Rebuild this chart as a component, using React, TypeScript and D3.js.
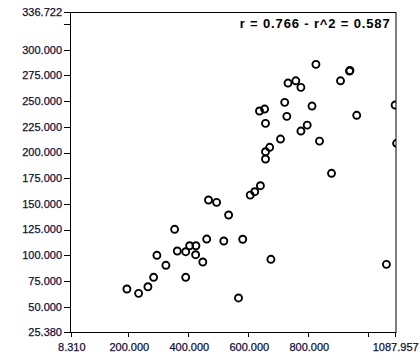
import React from "react";
import * as d3 from "d3";

const xValues = [192, 231, 262, 281, 292, 322, 351, 388, 360, 388, 401, 422, 421, 445, 458, 464, 491, 515, 531, 578, 564, 603, 618, 637, 634, 651, 654, 654, 654, 668, 672, 704, 718, 725, 729, 755, 772, 772, 793, 809, 822, 834, 874, 904, 934, 935.5, 958, 1057, 1086, 1091];
const yValues = [67.2, 63.0, 69.4, 78.6, 100.0, 90.3, 125.3, 78.6, 104.2, 103.5, 109.3, 109.3, 100.6, 93.5, 115.8, 153.8, 151.5, 113.9, 139.2, 115.6, 58.5, 158.6, 161.9, 167.7, 240.4, 242.3, 228.4, 200.8, 193.7, 205.1, 96.1, 213.1, 248.8, 235.2, 267.6, 269.8, 263.4, 220.9, 226.7, 245.2, 285.8, 211.1, 179.8, 269.8, 279.2, 279.8, 236.2, 91.2, 246.2, 209.0];

const xDomain = [8.31, 1087.957];
const yDomain = [25.38, 336.722];
const xTickLabels = [8.31, 200, 400, 600, 800, 1087.957];
const xMinorTicks = [1000];
const yTickLabels = [25.38, 50, 75, 100, 125, 150, 175, 200, 225, 250, 275, 300, 336.722];
const yMinorTicks = [325];
const title = "r = 0.766 - r^2 = 0.587";

export default function App() {
  const left = 70.5, right = 396, top = 12.5, bottom = 332.5;
  const x = d3.scaleLinear().domain(xDomain).range([71.8, 395.7]);
  const y = d3.scaleLinear().domain(yDomain).range([332, 12]);
  const fmt = d3.format(".3f");
  const textColor = "#10103a";
  const font = "'Liberation Sans', Arial, sans-serif";
  return (
    <svg width={420} height={360} style={{ position: "absolute", left: 0, top: 0, background: "#fff" }}>
      <defs>
        <clipPath id="plotclip">
          <rect x={left} y={top} width={right - left} height={bottom - top} />
        </clipPath>
      </defs>
      <rect x={0} y={0} width={420} height={360} fill="#fff" />
      <g clipPath="url(#plotclip)">
        {xValues.map((v, i) => (
          <circle key={i} cx={x(v)} cy={y(yValues[i])} r={3.5} fill="none" stroke="#000" strokeWidth={1.9} />
        ))}
      </g>
      <rect x={left} y={top} width={right - left} height={bottom - top} fill="none" stroke="#000" strokeWidth={1} />
      {yTickLabels.map((t) => (
        <g key={"y" + t}>
          <line x1={64} x2={left} y1={Math.round(y(t)) + 0.5} y2={Math.round(y(t)) + 0.5} stroke="#000" />
          <text x={62} y={y(t)} dy="0.35em" textAnchor="end" fontFamily={font} fontSize={11} stroke={textColor} strokeWidth={0.25} fill={textColor}>{fmt(t)}</text>
        </g>
      ))}
      {yMinorTicks.map((t) => (
        <line key={"ym" + t} x1={64} x2={left} y1={Math.round(y(t)) + 0.5} y2={Math.round(y(t)) + 0.5} stroke="#000" />
      ))}
      {xTickLabels.map((t) => (
        <g key={"x" + t}>
          <line x1={Math.round(x(t)) - 0.5} x2={Math.round(x(t)) - 0.5} y1={bottom} y2={337} stroke="#000" />
          <text x={x(t)} y={350.5} textAnchor="middle" fontFamily={font} fontSize={11} stroke={textColor} strokeWidth={0.25} fill={textColor}>{fmt(t)}</text>
        </g>
      ))}
      {xMinorTicks.map((t) => (
        <line key={"xm" + t} x1={Math.round(x(t)) - 0.5} x2={Math.round(x(t)) - 0.5} y1={bottom} y2={337} stroke="#000" />
      ))}
      <text x={390.5} y={28} textAnchor="end" fontFamily={font} fontWeight="bold" fontSize={13} letterSpacing={0.85} fill="#000">{title}</text>
    </svg>
  );
}
